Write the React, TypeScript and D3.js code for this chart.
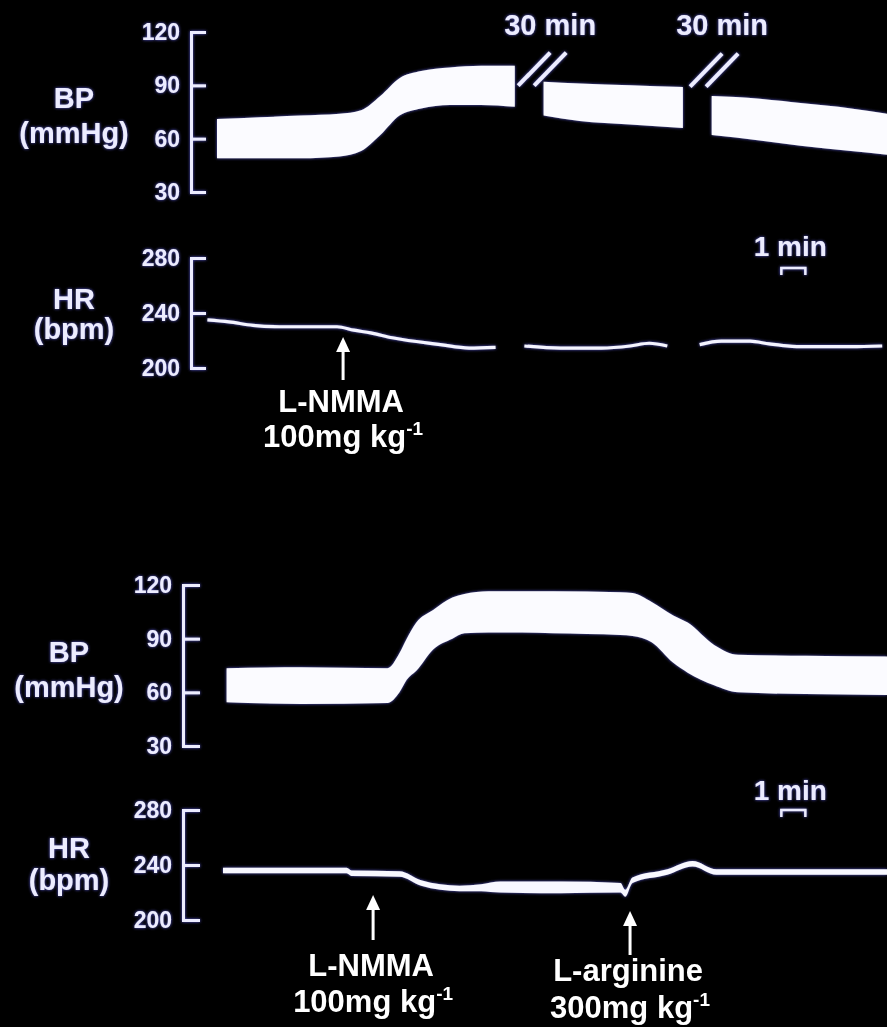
import React, { useEffect, useRef } from "react";
import * as d3 from "d3";

const WIDTH = 887;
const HEIGHT = 1027;

// time axis of each recording, in minutes
const timeDomain = [0, 28.4];

// ---------- Upper recording (L-NMMA) ----------
// blood pressure band (systolic / diastolic, mmHg), three segments split by 30-min breaks
const bpA1Time = [0.5, 2.3, 4.0, 5.6, 6.5, 7.3, 8.1, 9.0, 10.2, 11.5, 12.9];
const bpA1Sys = [71, 72, 73, 74, 76, 84, 94, 98, 100, 101, 101];
const bpA1Dia = [49, 49, 49, 50, 53, 62, 73, 77, 79, 79, 78];
const bpA2Time = [14.1, 15.6, 17.7, 19.9];
const bpA2Sys = [92, 91, 90, 89];
const bpA2Dia = [73, 70, 68, 66];
const bpA3Time = [21.1, 23.1, 24.8, 26.9, 28.4];
const bpA3Sys = [84, 82.5, 80, 77, 74];
const bpA3Dia = [62, 59, 56, 53, 51];

// heart rate (bpm)
const hrA1Time = [0.1, 1.0, 2.0, 3.1, 5.5, 6.2, 6.9, 7.8, 9.8, 11.0, 12.1];
const hrA1 = [235, 233.5, 231, 230, 230, 227.5, 225.5, 222, 217, 214.5, 215];
const hrA2Time = [13.3, 14.8, 16.5, 17.7, 18.5, 19.25];
const hrA2 = [216, 214.5, 214.5, 216, 218, 216];
const hrA3Time = [20.6, 21.5, 22.7, 23.5, 24.8, 26.9, 28.2];
const hrA3 = [217, 219.5, 219.5, 217.5, 215.5, 215.5, 216];

// breaks in the upper recording
const breakTimes = [14.04, 21.2];
const breakLevels = [99.1, 98.5];
const breakLabels = ["30 min", "30 min"];

// ---------- Lower recording (L-NMMA then L-arginine) ----------
const bpBTime = [0.9, 4.0, 7.6, 8.1, 8.4, 8.8, 9.5, 10.3, 10.8, 11.8, 13.1, 14.5, 17.3, 17.8, 18.6, 19.5, 20.1, 21.2, 22.2, 25.0, 28.4];
const bpBSys = [73.5, 74, 73.5, 82, 90, 99, 106, 113, 115, 116.5, 116.5, 116.5, 116, 115.5, 110.5, 103, 99, 86.5, 81, 80.5, 80];
const bpBDia = [54.5, 53.5, 54, 60, 67, 72, 84, 90, 93, 93.5, 93.5, 93, 92, 91.5, 88, 76.5, 71, 64, 60, 59, 58.5];

const hrBTime = [0.75, 5.9, 6.1, 8.1, 9.0, 9.8, 10.6, 11.5, 12.3, 14.8, 17.3, 17.5, 17.8, 19.25, 20.3, 21.3, 23.7, 28.4];
const hrBHigh = [238, 238, 236, 235.5, 229, 226, 225, 226, 228, 228, 227, 222, 231, 237, 243, 237, 237, 237];
const hrBLow = [234, 234, 232, 231.5, 225, 222, 221, 221, 220, 219.5, 220, 217, 227, 233, 239, 233, 233, 233];

// axes ticks
const bpTicks = [30, 60, 90, 120];
const hrTicks = [200, 240, 280];

// drug injections
const eventPanel = [0, 1, 1];
const eventTime = [5.75, 7.0, 17.7];
const eventDrug = ["L-NMMA", "L-NMMA", "L-arginine"];
const eventDose = ["100mg kg", "100mg kg", "300mg kg"];
const eventSup = ["-1", "-1", "-1"];

// 1-min scale bar
const scaleBarStart = 24.0;
const scaleBarLength = 1;
const scaleBarLabel = "1 min";

const FONT = "'Liberation Sans', Arial, Helvetica, sans-serif";
const INK = "#ececff";

const panels = [
  {
    bpRange: [192, 32], hrRange: [368, 258], axisX: 191, tick: 15,
    titleX: 74, bpTitleY: [108, 143], hrTitleY: [309, 339],
    scaleBarY: 268, scaleTextY: 256,
    bpBands: [
      { t: bpA1Time, hi: bpA1Sys, lo: bpA1Dia },
      { t: bpA2Time, hi: bpA2Sys, lo: bpA2Dia },
      { t: bpA3Time, hi: bpA3Sys, lo: bpA3Dia },
    ],
    hrLines: [
      { t: hrA1Time, v: hrA1 },
      { t: hrA2Time, v: hrA2 },
      { t: hrA3Time, v: hrA3 },
    ],
    hrBands: [] as { t: number[]; hi: number[]; lo: number[] }[],
    eventLayout: [{ tip: 337, base: 380, l1: 412, l2: 447 }],
  },
  {
    bpRange: [746, 585], hrRange: [920, 810], axisX: 183, tick: 17,
    titleX: 69, bpTitleY: [662, 697], hrTitleY: [858, 890],
    scaleBarY: 810, scaleTextY: 800,
    bpBands: [{ t: bpBTime, hi: bpBSys, lo: bpBDia }],
    hrLines: [] as { t: number[]; v: number[] }[],
    hrBands: [{ t: hrBTime, hi: hrBHigh, lo: hrBLow }],
    eventLayout: [
      { tip: 895, base: 940, l1: 976, l2: 1012 },
      { tip: 911, base: 955, l1: 981, l2: 1018 },
    ],
  },
];

export default function App() {
  const ref = useRef<SVGSVGElement>(null);

  useEffect(() => {
    document.body.style.margin = "0";
    document.body.style.background = "#000";
    document.body.style.overflow = "hidden";

    const root = d3.select(ref.current);
    root.selectAll("*").remove();

    const defs = root.append("defs");
    const f = defs.append("filter").attr("id", "glow")
      .attr("x", "-20%").attr("y", "-20%").attr("width", "140%").attr("height", "140%");
    f.append("feGaussianBlur").attr("in", "SourceAlpha").attr("stdDeviation", 1.4).attr("result", "blur");
    f.append("feFlood").attr("flood-color", "#5c5cd8").attr("result", "col");
    f.append("feComposite").attr("in", "col").attr("in2", "blur").attr("operator", "in").attr("result", "halo");
    const m = f.append("feMerge");
    m.append("feMergeNode").attr("in", "halo");
    m.append("feMergeNode").attr("in", "SourceGraphic");

    root.append("rect").attr("width", WIDTH).attr("height", HEIGHT).attr("fill", "#000");

    const x = d3.scaleLinear().domain(timeDomain).range([205, 887]);
    const fig = root.append("g").attr("filter", "url(#glow)");
    const notes = root.append("g");

    panels.forEach((p, pi) => {
      const yBP = d3.scaleLinear().domain([30, 120]).range(p.bpRange);
      const yHR = d3.scaleLinear().domain([200, 280]).range(p.hrRange);
      const g = fig.append("g");

      const drawAxis = (scale: d3.ScaleLinear<number, number>, ticks: number[]) => {
        const ax = d3.axisLeft(scale).tickValues(ticks)
          .tickSizeInner(-p.tick).tickSizeOuter(-p.tick).tickPadding(11)
          .tickFormat(d3.format("d") as any);
        const a = g.append("g").attr("transform", `translate(${p.axisX},0)`).call(ax as any);
        a.select(".domain").attr("stroke", INK).attr("stroke-width", 3).attr("fill", "none");
        a.selectAll(".tick line").attr("stroke", INK).attr("stroke-width", 3);
        a.selectAll(".tick text").attr("fill", INK).attr("font-family", FONT)
          .attr("font-size", 23).attr("font-weight", "bold");
      };
      drawAxis(yBP, bpTicks);
      drawAxis(yHR, hrTicks);

      const title = (txt: string, y: number) =>
        g.append("text").attr("x", p.titleX).attr("y", y).attr("text-anchor", "middle")
          .attr("fill", INK).attr("font-family", FONT).attr("font-size", 29).attr("font-weight", "bold")
          .text(txt);
      title("BP", p.bpTitleY[0]);
      title("(mmHg)", p.bpTitleY[1]);
      title("HR", p.hrTitleY[0]);
      title("(bpm)", p.hrTitleY[1]);

      // BP bands
      p.bpBands.forEach((b) => {
        const area = d3.area<number>()
          .x((_, i) => x(b.t[i]))
          .y0((_, i) => yBP(b.lo[i]))
          .y1((_, i) => yBP(b.hi[i]))
          .curve(d3.curveMonotoneX);
        g.append("path").attr("d", area(b.t) as string).attr("fill", "#fbfbff");
      });

      // HR traces
      p.hrLines.forEach((l) => {
        const line = d3.line<number>()
          .x((_, i) => x(l.t[i]))
          .y((_, i) => yHR(l.v[i]))
          .curve(d3.curveMonotoneX);
        g.append("path").attr("d", line(l.t) as string).attr("fill", "none")
          .attr("stroke", "#f4f4ff").attr("stroke-width", 3.2).attr("stroke-linejoin", "round");
      });
      p.hrBands.forEach((b) => {
        const area = d3.area<number>()
          .x((_, i) => x(b.t[i]))
          .y0((_, i) => yHR(b.lo[i]))
          .y1((_, i) => yHR(b.hi[i]))
          .curve(d3.curveMonotoneX);
        g.append("path").attr("d", area(b.t) as string).attr("fill", "#f8f8ff");
      });

      // scale bar
      const sx0 = x(scaleBarStart);
      const sx1 = x(scaleBarStart + scaleBarLength);
      g.append("path")
        .attr("d", `M${sx0},${p.scaleBarY + 7}V${p.scaleBarY}H${sx1}V${p.scaleBarY + 7}`)
        .attr("fill", "none").attr("stroke", INK).attr("stroke-width", 2.5);
      g.append("text").attr("x", (sx0 + sx1) / 2 - 3).attr("y", p.scaleTextY)
        .attr("text-anchor", "middle").attr("fill", INK).attr("font-family", FONT)
        .attr("font-size", 28).attr("font-weight", "bold").text(scaleBarLabel);

      // breaks (upper recording only)
      if (pi === 0) {
        breakTimes.forEach((bt, i) => {
          const cx = x(bt);
          const cy = yBP(breakLevels[i]);
          [-8, 8].forEach((k) => {
            g.append("line")
              .attr("x1", cx + k - 16).attr("y1", cy + 16.5)
              .attr("x2", cx + k + 16).attr("y2", cy - 16.5)
              .attr("stroke", INK).attr("stroke-width", 4);
          });
          g.append("text").attr("x", cx + 8).attr("y", 35).attr("text-anchor", "middle")
            .attr("fill", INK).attr("font-family", FONT).attr("font-size", 29).attr("font-weight", "bold")
            .text(breakLabels[i]);
        });
      }

      // injection annotations
      let k = 0;
      eventTime.forEach((et, ei) => {
        if (eventPanel[ei] !== pi) return;
        const L = p.eventLayout[k++];
        const ex = x(et);
        notes.append("line").attr("x1", ex).attr("x2", ex).attr("y1", L.tip + 10).attr("y2", L.base)
          .attr("stroke", "#fff").attr("stroke-width", 3);
        notes.append("path")
          .attr("d", `M${ex},${L.tip}L${ex - 7},${L.tip + 15}L${ex + 7},${L.tip + 15}Z`)
          .attr("fill", "#fff");
        notes.append("text").attr("x", ex - 2).attr("y", L.l1).attr("text-anchor", "middle")
          .attr("fill", "#fff").attr("font-family", FONT).attr("font-size", 31).attr("font-weight", "bold")
          .text(eventDrug[ei]);
        const t2 = notes.append("text").attr("x", ex).attr("y", L.l2).attr("text-anchor", "middle")
          .attr("fill", "#fff").attr("font-family", FONT).attr("font-size", 31).attr("font-weight", "bold");
        t2.append("tspan").text(eventDose[ei]);
        t2.append("tspan").attr("dy", -12).attr("font-size", 19).text(eventSup[ei]);
      });
    });
  }, []);

  return (
    <svg
      ref={ref}
      width={WIDTH}
      height={HEIGHT}
      style={{ display: "block", position: "absolute", left: 0, top: 0, background: "#000" }}
    />
  );
}
